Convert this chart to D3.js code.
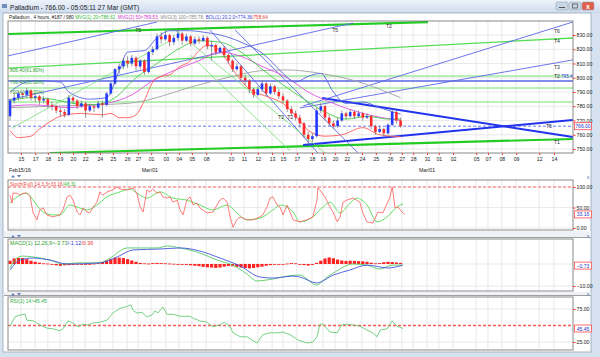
<!DOCTYPE html>
<html><head><meta charset="utf-8">
<script src="https://cdn.jsdelivr.net/npm/d3@7/dist/d3.min.js"></script>
<style>
html,body{margin:0;padding:0;background:#fff;overflow:hidden}
svg{display:block}
text{font-family:"Liberation Sans","DejaVu Sans",Arial,sans-serif}
</style></head><body>
<svg id="chart" width="600" height="357"></svg>
<script>
// ================= DATA =================
const titleText = "Palladium - 766.00 - 05:05:11 27 Mar (GMT)";
const legendTexts = ["Palladium , 4 hours, #187 / 980 ", "MVG(1) 20>786.62, ", "MVG(2) 50>789.53, ", "MVG(3) 100>785.78, ", "BOL(1) 20.2.0>774.36", "/758.64"];
const stochLegend = ["Stoch(Full) 14,3,3>33.16", "/48.31"];
const macdLegend = ["MACD(1) 12,26,9>-3.73", "/-1.12", "/0.36"];
const rsiLegend = ["RSI(1) 14>45.45"];

// candles [open, high, low, close], one per 8 hours
const candles = [
[773,785,770,784],[784,789,782,786],[786,791,784,789],[789,790,785,788],[788,793,786,791],
[791,792,784,786],[786,789,783,787],[787,788,781,784],[784,787,782,785],[785,786,779,781],
[781,783,777,780],[780,781,775,777],[777,779,773,776],[776,778,772,774],[774,788,773,786],
[786,787,782,784],[784,785,778,780],[780,784,779,782],[782,783,772,777],[777,782,776,780],
[780,781,776,779],[779,784,778,782],[782,784,772,781],[781,790,780,789],[789,797,788,796],
[796,807,795,806],[806,810,803,808],[808,814,806,812],[812,815,807,810],[810,816,808,814],
[814,815,805,808],[808,813,806,812],[812,813,802,804],[804,819,803,818],[818,822,816,820],
[820,831,819,829],[829,832,824,827],[827,833,826,830],[830,831,822,825],[825,830,823,828],
[828,833,826,831],[831,832,823,826],[826,831,825,829],[829,830,822,824],[824,829,823,827],
[827,829,824,826],[826,830,825,828],[828,829,820,822],[822,826,812,823],[823,824,816,818],
[818,822,817,821],[821,822,814,816],[816,817,810,812],[812,813,804,806],[806,810,805,808],
[808,809,798,800],[800,802,795,798],[798,799,789,792],[792,793,786,788],[788,794,787,792],
[792,798,790,796],[796,797,787,789],[789,796,788,794],[794,795,788,790],[790,792,785,787],
[787,789,782,784],[784,785,776,778],[778,780,773,775],[775,777,770,772],[772,774,765,768],
[768,769,758,760],[760,762,753,757],[757,761,755,759],[759,779,758,777],[777,782,775,780],
[780,781,770,772],[772,774,766,768],[768,770,764,766],[766,772,765,770],[770,777,769,775],
[775,776,771,773],[773,778,772,776],[776,777,771,773],[773,777,772,775],[775,776,770,772],
[772,775,771,773],[773,774,764,766],[766,767,760,762],[762,766,761,764],[764,765,759,761],
[761,768,760,767],[767,778,766,776],[776,777,768,770],[770,772,765,766]
];

// overlays: [candle index, price]
const bollUpper = [[0,790],[3,796],[6,798],[12,797],[14,790],[19,785],[23,786],[26,805],[28,818],[32,819],[35,828],[38,833],[43,833],[46,832],[50,830],[55,825],[61,815],[64,806],[68,797],[71,801],[74,803],[77,790],[80,782],[84,783],[88,779],[93,774.4]];
const bollLower = [[0,763],[2,758],[5,759],[7,764],[10,770],[12,773],[17,775],[22,774],[24,775],[26,772],[28,772],[30,774],[32,784],[34,797],[36,801],[38,802],[40,807],[43,812],[45,819],[47,823],[50,819],[53,806],[57,792],[61,787],[65,782],[69,770],[71,763],[75,759],[79,760],[84,765],[88,760],[93,758.6]];
const mvg20 = [[0,784],[5,786],[10,785],[15,782],[20,781],[25,786],[30,800],[35,810],[40,820],[45,826],[50,825],[55,818],[60,806],[65,795],[70,785],[75,776],[80,771],[85,773],[90,771],[93,771]];
const mvg50 = [[0,780],[5,781],[10,780],[14,779],[20,781],[23,782],[29,788],[34,798],[39,805],[45,812],[50,818],[55,815],[60,808],[66,800],[71,790],[77,782],[84,775],[93,770]];
const mvg100 = [[0,779],[10,780],[20,781],[28,782],[45,795],[53,801],[60,805],[66,805.5],[74,803],[82,798],[93,786]];

// horizontal levels
const greenLevels = [801.2, 792.8, 783.0];
const blueLevels = [797.7];
const fibLabels = [[805.4,"806.40(61.80%)"],[797.0,"799.40(50.00%)"],[789.3,"792.40(38.20%)"]];
const lastPrice = 766;

// trend lines: [i1, p1, i2, p2, kind]
const trendLines = [
 [-0.5,830.7, 99.5,839.1, "greenThick"],
 [-0.5,806.8, 134,827.9, "greenMid"],
 [9.5,747.2, 134,757.0, "greenThick"],
 [74.3,785.8, 134,758.4, "blueThick"],
 [69.8,752.8, 134,770.4, "blueThick"],
 [69.8,780.2, 134,839.1, "blueThin"],
 [69.0,778.8, 134,812.5, "blueThin"],
 [-0.5,815.3, 35,839.1, "blueThin"],
 [-0.5,784.4, 81.7,838.4, "blueThin"],
 [47.6,833.5, 73.3,747.2, "blueThin"],
 [53.6,833.5, 82.9,747.2, "blueThin"],
 [39.3,833.5, 75.0,747.2, "greenThin"],
 [42.9,816.0, 66.7,748.6, "greenThin"],
 [0.5,764.7, 38.1,826.0, "greenThin"]
];
const trendLabels = [[29.8,832.1,"T5"],[76.7,832.1,"T5"],[89.5,834.9,"T2"],[129.5,831.4,"T6"],[129.5,824.4,"T4"],[129.5,806.1,"T3"],[129.5,799.8,"T2"],[129.5,753.5,"T1"],[63.8,771,"T3"],[66,771,"T2"],[127.6,764.7,"T5"]];
const trendValueLabel = [131.2, 799.8, "795.46"];

// date axis
const dayTicks = [[2.6,"15"],[6,"17"],[9,"18"],[11.9,"19"],[15,"20"],[17.9,"22"],[21.4,"24"],[24.5,"25"],[27.9,"26"],[30.5,"27"],[33.6,"01"],[37.1,"03"],[40.2,"04"],[43.3,"05"],[46.7,"08"],[52.6,"10"],[55.7,"11"],[59,"12"],[62.4,"13"],[65,"15"],[68.3,"17"],[71.9,"18"],[74.5,"19"],[77.4,"20"],[80.2,"22"],[83.8,"24"],[87.1,"25"],[90.5,"26"],[93.3,"27"],[96,"28"],[99.3,"31"],[102.1,"01"],[105.5,"02"],[111,"05"],[113.8,"07"],[117.1,"08"],[120.5,"09"],[126,"12"],[129.5,"14"]];
const monthTicks = [[-0.5,"Feb15/16"],[33.3,"Mar/01"],[99.3,"Mar/01"]];
const priceTicks = [750,760,770,780,790,800,810,820,830];

// stochastic [index, value]
const stochK = [[0,80],[0.5,61],[0.7,85],[1.7,85],[2.4,80],[3.1,85],[4,85],[4.8,76],[5.5,37],[6.4,20],[7.1,44],[7.9,49],[8.8,32],[10.2,27],[11.9,32],[12.6,44],[13.6,76],[14.3,80],[15,68],[16,39],[16.7,32],[17.4,49],[18.3,39],[19,37],[19.8,51],[20.7,63],[21.4,88],[22.1,80],[23.1,88],[24.5,93],[25.5,100],[26.2,95],[27.9,93],[28.6,95],[29.3,98],[30.2,85],[31,51],[31.7,39],[32.6,93],[33.3,88],[34,95],[35,85],[35.7,88],[36.4,76],[37.4,73],[38.1,76],[38.8,63],[39.8,68],[40.5,44],[41.2,32],[42.1,68],[42.9,76],[43.6,56],[44.5,61],[45.2,49],[46.9,37],[48.3,39],[50,68],[50.7,73],[51.7,63],[52.4,27],[53.1,2],[54,20],[54.8,27],[56.4,20],[57.9,20],[59.5,27],[60.2,32],[61.2,51],[61.9,73],[62.6,76],[63.6,56],[64.3,51],[65,32],[66,56],[66.7,37],[67.4,20],[69,15],[70.7,20],[72.1,27],[73.1,68],[73.3,98],[73.8,93],[75,76],[76.2,51],[76.9,39],[77.9,15],[78.6,27],[79.3,63],[80.2,68],[81.7,73],[83.3,63],[84,37],[85,15],[86.4,12],[87.6,39],[88.8,37],[90.5,76],[91,100],[91.7,49],[92.4,51],[93.3,39],[94,33.16]];
const stochD = [[0,61],[1.7,76],[4,85],[5.5,68],[7.9,39],[10.2,32],[11.9,32],[14.3,56],[16,51],[18.3,44],[20.7,56],[23.1,76],[26.2,88],[28.6,95],[30.2,85],[32.6,73],[35.7,88],[38.8,73],[42.1,68],[45.2,56],[48.3,44],[51.7,56],[54,37],[56.4,20],[59.5,24],[62.6,44],[64.3,56],[67.4,39],[69,15],[72.1,27],[74.5,51],[76.2,63],[78.6,37],[81,61],[82.6,73],[85,56],[87.4,15],[89.8,27],[92.1,51],[93.6,59]];
const stochTicks = [0,50,100];
const stochLast = 33.16;

// MACD
const macdLine = [[0,-1.8],[1.7,2.7],[3,3.6],[5.5,3.2],[9.5,1.8],[12.6,0],[16,0.5],[21.4,0.5],[23.8,2.7],[27.9,7.3],[31.7,7.3],[35,7.3],[37.4,8.2],[40.5,7.3],[45.2,5],[49.3,1.8],[53,-0.5],[56.4,-4.5],[58.8,-7.7],[62.6,-6.8],[66,-5.5],[69,-5],[73,-9.5],[75.5,-5.9],[77,-4.1],[81.7,0],[85,-0.5],[88,-2.3],[91,-0.5],[93.5,-0.5]];
const macdSignal = [[0,-2.7],[2.4,1.8],[5.5,2.7],[9.5,1.8],[13.6,0],[21.4,0.5],[25.5,3.2],[29.3,6.4],[35.7,6.8],[40.5,7.3],[45.2,5.9],[50,2.7],[54.8,-0.9],[59.5,-5.9],[62.6,-6.4],[67.4,-5.5],[69,-5.9],[73,-8.6],[77,-5],[81,-2.7],[85,-0.5],[90,-1.8],[93.5,-0.5]];
const macdHist = [1.5,2.5,2.8,2.7,2.2,1.5, 1.0,0.6,0.3,0.2,-0.3,-0.6,-0.8,-0.6, -0.5,-0.4,-0.3,-0.3,-0.2,0,0.2, 0.5,1.0,1.6,2.3,2.8,2.9,2.7,2.2,1.6,1.0, 0.5,0.3,0.2,0.4,0.5,0.4,0.3,0.2,0.1,-0.1,-0.2,-0.4,-0.6,-0.8, -1.0,-1.3,-1.5,-1.6,-1.8,-1.6,-1.2,-0.9,-1.0,-1.3,-1.6,-1.8,-2.0,-1.8,-1.5,-1.2,-0.8,-0.5,-0.3, -0.2,0,0.2,0.4,0.3,-0.2,-0.5,-0.7,-0.4, 0.5,1.5,2.5,3.0,2.6,2.0,1.6,1.4, 1.5,1.4,1.3,1.2,1.0,0.6,0.3,0.4,0.8,1.0,0.9,0.7,0.5];
const macdTicks = [-10];
const macdLast = -0.73;

// RSI
const rsi = [[0,49],[1.2,63],[2.4,66],[3.6,67],[4,58],[5.5,57],[6.4,54],[7.1,51],[8.8,46],[10.2,45],[11.9,42],[12.6,45],[13.8,57],[15,54],[16.2,48],[17.4,52],[18.6,51],[19.8,54],[21.4,55],[23.1,58],[24.5,69],[26.2,76],[27.9,79],[28.8,81],[29.3,73],[30.2,69],[31.4,70],[32.6,63],[33.8,66],[34.5,72],[35.2,69],[36.4,78],[37.4,67],[38.8,67],[40.5,64],[42.9,64],[43.6,61],[45.2,57],[46.9,55],[48.3,48],[50,51],[51,55],[52.4,48],[53.1,39],[54.8,33],[56.4,33],[58.8,23.5],[60.2,36],[61.9,39],[63.6,39],[65,40],[66.7,36],[68.6,28],[70.7,23.5],[72.1,25],[73.1,33],[73.8,52],[74.5,52],[76.2,40],[77.9,39],[79,51],[80.2,52],[81.7,51],[83.3,49],[85,43],[86.4,39],[87.4,33],[88.1,43],[89.8,45],[91,57],[92.1,49],[93.6,45.45]];
const rsiTicks = [25,75];
const rsiMid = 50;
const rsiLast = 45.45;

// ================= DRAWING =================
const svg = d3.select("#chart");
const PL = 8, PR = 573;
const main = {top:21, bottom:153};
const p1 = {top:180, bottom:230};
const p2 = {top:239, bottom:291};
const p3 = {top:297, bottom:350};

const x = d3.scaleLinear().domain([0,134]).range([10,572.8]);
const yMain = d3.scaleLinear().domain([750,830]).range([149,35]);
const yStoch = d3.scaleLinear().domain([0,100]).range([228,187]);
const yMacd = d3.scaleLinear().domain([-10,10]).range([286,242]);
const yRsi = d3.scaleLinear().domain([25,75]).range([342,309]);

const FONT = "Liberation Sans, DejaVu Sans, Arial, sans-serif";

// window chrome
const defs = svg.append("defs");
const tg = defs.append("linearGradient").attr("id","tb").attr("x1",0).attr("y1",0).attr("x2",0).attr("y2",1);
tg.append("stop").attr("offset","0%").attr("stop-color","#eef3fa");
tg.append("stop").attr("offset","100%").attr("stop-color","#cfdcee");
svg.append("rect").attr("x",0).attr("y",0).attr("width",600).attr("height",357).attr("fill","#d6e2f0");
svg.append("rect").attr("x",0).attr("y",0).attr("width",600).attr("height",13).attr("fill","url(#tb)");
svg.append("rect").attr("x",3).attr("y",13).attr("width",588).attr("height",339).attr("fill","#ffffff").attr("stroke","#9aa6b6").attr("stroke-width",0.8);
svg.append("rect").attr("x",2).attr("y",4).attr("width",5).attr("height",4).attr("fill","#6f8fb8");
svg.append("text").attr("x",10).attr("y",9.5).attr("font-size",6.6).attr("fill","#1a1a1a").text(titleText);
// buttons
[[556,"#c9d6e6"],[569,"#c9d6e6"],[582,"#e0604c"]].forEach(([bx,c])=>{
  svg.append("rect").attr("x",bx).attr("y",2).attr("width",12).attr("height",8).attr("rx",1.5).attr("fill",c).attr("stroke","#8a9bb3").attr("stroke-width",0.5);
});
svg.append("line").attr("x1",559).attr("x2",565).attr("y1",7.5).attr("y2",7.5).attr("stroke","#555").attr("stroke-width",1);
svg.append("rect").attr("x",572.5).attr("y",4).attr("width",5).attr("height",4).attr("fill","none").attr("stroke","#555").attr("stroke-width",0.8);
svg.append("text").attr("x",588).attr("y",8.8).attr("font-size",7).attr("text-anchor","middle").attr("fill","#fff").attr("font-weight","bold").text("x");

// legend line
const legColors = ["#222","#2fb82f","#cc33cc","#888","#3344dd","#ee3333"];
const lg = svg.append("text").attr("x",9).attr("y",18.8).attr("font-size",4.7);
legendTexts.forEach((t,i)=> lg.append("tspan").attr("fill",legColors[i]).text(t));

// panel frames & grids
function panelBase(p, yScale, hVals){
  const g = svg.append("g");
  g.append("rect").attr("x",PL).attr("y",p.top).attr("width",PR-PL).attr("height",p.bottom-p.top).attr("fill","#fff");
  g.selectAll(".vg").data(dayTicks).join("line").attr("x1",d=>x(d[0])).attr("x2",d=>x(d[0])).attr("y1",p.top).attr("y2",p.bottom).attr("stroke","#e3e3e3").attr("stroke-width",0.8);
  g.selectAll(".hg").data(hVals).join("line").attr("x1",PL).attr("x2",PR).attr("y1",d=>yScale(d)).attr("y2",d=>yScale(d)).attr("stroke","#e3e3e3").attr("stroke-width",0.8);
  return g;
}
panelBase(main, yMain, priceTicks);
panelBase(p1, yStoch, stochTicks);
panelBase(p2, yMacd, [0].concat(macdTicks));
panelBase(p3, yRsi, rsiTicks);

// ---- main chart ----
defs.append("clipPath").attr("id","clipMain").append("rect").attr("x",PL).attr("y",main.top).attr("width",PR-PL).attr("height",main.bottom-main.top);
const gm = svg.append("g").attr("clip-path","url(#clipMain)");

gm.selectAll(".gl").data(greenLevels).join("line").attr("x1",PL).attr("x2",PR).attr("y1",d=>yMain(d)).attr("y2",d=>yMain(d)).attr("stroke","#9fec9f").attr("stroke-width",1.6);
gm.selectAll(".bl").data(blueLevels).join("line").attr("x1",PL).attr("x2",PR).attr("y1",d=>yMain(d)).attr("y2",d=>yMain(d)).attr("stroke","#5a66e0").attr("stroke-width",1.6);
gm.append("line").attr("x1",PL).attr("x2",PR).attr("y1",yMain(lastPrice)).attr("y2",yMain(lastPrice)).attr("stroke","#6f7cf0").attr("stroke-width",1).attr("stroke-dasharray","3,2");

const tStyle = {
  greenThick:{c:"#22cc22",w:2.2},
  greenMid:{c:"#55dd55",w:1.3},
  greenThin:{c:"#77dd77",w:0.8},
  blueThick:{c:"#2233ee",w:2},
  blueThin:{c:"#5b66ea",w:0.9}
};
gm.selectAll(".tl").data(trendLines).join("line")
  .attr("x1",d=>x(d[0])).attr("y1",d=>yMain(d[1])).attr("x2",d=>x(d[2])).attr("y2",d=>yMain(d[3]))
  .attr("stroke",d=>tStyle[d[4]].c).attr("stroke-width",d=>tStyle[d[4]].w);

const line = (ys)=> d3.line().x(d=>x(d[0])).y(d=>ys(d[1])).curve(d3.curveMonotoneX);
const lineJ = (ys)=> d3.line().x(d=>x(d[0])).y(d=>ys(d[1]));
gm.append("path").attr("d",line(yMain)(mvg100)).attr("fill","none").attr("stroke","#a0a0a0").attr("stroke-width",0.9);
gm.append("path").attr("d",line(yMain)(mvg50)).attr("fill","none").attr("stroke","#e050e0").attr("stroke-width",0.9);
gm.append("path").attr("d",line(yMain)(mvg20)).attr("fill","none").attr("stroke","#44cc44").attr("stroke-width",0.9);
gm.append("path").attr("d",line(yMain)(bollUpper)).attr("fill","none").attr("stroke","#5563e0").attr("stroke-width",0.9);
gm.append("path").attr("d",line(yMain)(bollLower)).attr("fill","none").attr("stroke","#ff5a5a").attr("stroke-width",0.9);

gm.selectAll(".fl").data(fibLabels).join("text").attr("x",PL+2).attr("y",d=>yMain(d[0])+1.5).attr("font-size",4.8).attr("fill","#2f9f2f").text(d=>d[1]);

// candles
const cw = 2.6;
const cg = gm.append("g");
cg.selectAll(".wick").data(candles).join("line")
  .attr("x1",(d,i)=>x(i)).attr("x2",(d,i)=>x(i)).attr("y1",d=>yMain(d[1])).attr("y2",d=>yMain(d[2]))
  .attr("stroke","#666").attr("stroke-width",0.7);
cg.selectAll(".body").data(candles).join("rect")
  .attr("x",(d,i)=>x(i)-cw/2).attr("width",cw)
  .attr("y",d=>yMain(Math.max(d[0],d[3]))).attr("height",d=>Math.max(0.8,Math.abs(yMain(d[0])-yMain(d[3]))))
  .attr("fill",d=>d[3]>=d[0]?"#2438ff":"#ff2b2b");

gm.selectAll(".tlab").data(trendLabels).join("text").attr("x",d=>x(d[0])).attr("y",d=>yMain(d[1])).attr("font-size",5.2).attr("fill","#333").text(d=>d[2]);
gm.append("text").attr("x",x(trendValueLabel[0])).attr("y",yMain(trendValueLabel[1])).attr("font-size",4.6).attr("fill","#3344dd").text(trendValueLabel[2]);

// ---- stochastic ----
const g1 = svg.append("g");
g1.append("line").attr("x1",PL).attr("x2",PR).attr("y1",yStoch(100)).attr("y2",yStoch(100)).attr("stroke","#ff6b6b").attr("stroke-width",1).attr("stroke-dasharray","3,2");
g1.append("path").attr("d",line(yStoch)(stochD)).attr("fill","none").attr("stroke","#55dd55").attr("stroke-width",0.9);
g1.append("path").attr("d",lineJ(yStoch)(stochK)).attr("fill","none").attr("stroke","#ff5a5a").attr("stroke-width",0.8);
const l1 = g1.append("text").attr("x",PL+2).attr("y",p1.top+5.5).attr("font-size",4.8);
l1.append("tspan").attr("fill","#ee4444").text(stochLegend[0]);
l1.append("tspan").attr("fill","#33bb33").text(stochLegend[1]);

// ---- MACD ----
const g2 = svg.append("g");
g2.selectAll(".hb").data(macdHist).join("rect")
  .attr("x",(d,i)=>x(i)-1.6).attr("width",3.2)
  .attr("y",d=>yMacd(Math.max(0,d))).attr("height",d=>Math.max(0.8,Math.abs(yMacd(d)-yMacd(0))))
  .attr("fill","#ff2020");
g2.append("path").attr("d",line(yMacd)(macdLine)).attr("fill","none").attr("stroke","#55cc66").attr("stroke-width",0.9);
g2.append("path").attr("d",line(yMacd)(macdSignal)).attr("fill","none").attr("stroke","#4455dd").attr("stroke-width",0.9);
const l2 = g2.append("text").attr("x",PL+2).attr("y",p2.top+5.5).attr("font-size",5.4);
l2.append("tspan").attr("fill","#2ea02e").text(macdLegend[0]);
l2.append("tspan").attr("fill","#3344dd").text(macdLegend[1]);
l2.append("tspan").attr("fill","#ee3333").text(macdLegend[2]);

// ---- RSI ----
const g3 = svg.append("g");
g3.append("line").attr("x1",PL).attr("x2",PR).attr("y1",yRsi(rsiMid)).attr("y2",yRsi(rsiMid)).attr("stroke","#ff5a5a").attr("stroke-width",1.3).attr("stroke-dasharray","3,2");
g3.append("path").attr("d",lineJ(yRsi)(rsi)).attr("fill","none").attr("stroke","#66cc77").attr("stroke-width",0.9);
g3.append("text").attr("x",PL+2).attr("y",p3.top+5.5).attr("font-size",5).attr("fill","#33aa44").text(rsiLegend[0]);

// frames
[main,p1,p2,p3].forEach(p=>{
  svg.append("rect").attr("x",PL).attr("y",p.top).attr("width",PR-PL).attr("height",p.bottom-p.top).attr("fill","none").attr("stroke","#7d7d7d").attr("stroke-width",0.9);
});
// panel separators
[[231,7],[292,4]].forEach(([sy,sh])=>{
  svg.append("rect").attr("x",4).attr("y",sy).attr("width",587).attr("height",sh).attr("fill","#eef1f5");
  svg.append("line").attr("x1",4).attr("x2",591).attr("y1",sy+sh-0.5).attr("y2",sy+sh-0.5).attr("stroke","#8a8a8a").attr("stroke-width",0.8);
});
// small arrow icons
[176,236,294].forEach(yy=>{
  svg.append("path").attr("d",`M11,${yy+1.5} L13,${yy-1} L15,${yy+1.5} Z`).attr("fill","#5878b8");
  svg.append("path").attr("d",`M17,${yy-1} L21,${yy-1} L19,${yy+1.5} Z`).attr("fill","#5878b8");
});
[177,236,294].forEach(yy=>{
  svg.append("text").attr("x",588).attr("y",yy+2).attr("font-size",5.5).attr("text-anchor","middle").attr("fill","#5878b8").text("x");
});

// ---- axes ----
function rightAxis(scale, ticks, fmt){
  const a = svg.append("g").attr("transform",`translate(${PR},0)`)
    .call(d3.axisRight(scale).tickValues(ticks).tickSize(2.5).tickPadding(1).tickFormat(fmt));
  a.select(".domain").remove();
  a.selectAll("line").attr("stroke","#ff3030");
  a.selectAll("text").attr("font-size",5.2).attr("font-family",FONT).attr("fill","#222");
  return a;
}
const f2 = d3.format(".2f");
rightAxis(yMain, priceTicks, f2);
rightAxis(yStoch, stochTicks, f2);
rightAxis(yMacd, macdTicks, f2);
rightAxis(yRsi, rsiTicks, f2);

function valueBox(yy, txt){
  svg.append("rect").attr("x",PR+1.5).attr("y",yy-3.5).attr("width",17).attr("height",7).attr("fill","#fff").attr("stroke","#ff4a4a").attr("stroke-width",0.8);
  svg.append("text").attr("x",PR+10).attr("y",yy+2).attr("font-size",5).attr("text-anchor","middle").attr("fill","#2233cc").text(txt);
}
valueBox(yMain(lastPrice), f2(lastPrice));
valueBox(yStoch(stochLast), f2(stochLast));
valueBox(yMacd(macdLast), f2(macdLast));
valueBox(yRsi(rsiLast), f2(rsiLast));

// date axis
const dayMap = new Map(dayTicks.map(d=>[d[0],d[1]]));
const xa = svg.append("g").attr("transform",`translate(0,${main.bottom})`)
  .call(d3.axisBottom(x).tickValues(dayTicks.map(d=>d[0])).tickSize(2).tickPadding(2.5).tickFormat(v=>dayMap.get(v)));
xa.select(".domain").remove();
xa.selectAll("line").attr("stroke","#ff3030");
xa.selectAll("text").attr("font-size",5.2).attr("font-family",FONT).attr("fill","#222");

svg.selectAll(".mt").data(monthTicks).join("text")
  .attr("x",d=>d[0]<0?PL+1:x(d[0])).attr("y",171.5).attr("font-size",5.2)
  .attr("text-anchor",d=>d[0]<0?"start":"middle").attr("fill","#222").text(d=>d[1]);
</script>
</body></html>
